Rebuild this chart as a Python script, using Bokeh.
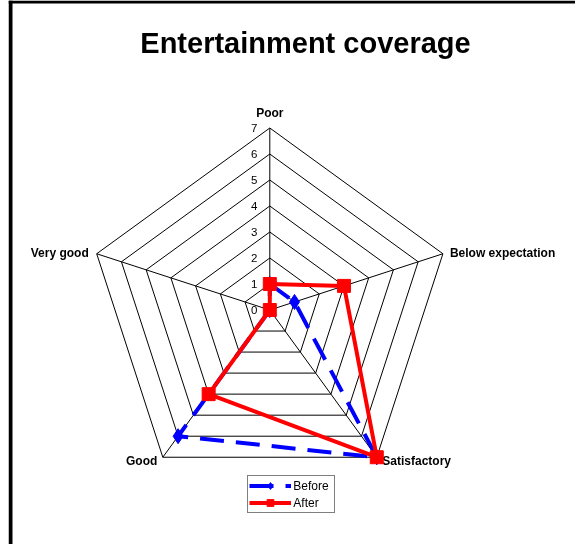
import math
from bokeh.plotting import figure
from bokeh.models import Range1d, Span, Legend, LegendItem, ColumnDataSource
from bokeh.core.properties import value
from bokeh.embed import file_html
from bokeh.resources import INLINE

# ---- data ----
categories = ["Poor", "Below expectation", "Satisfactory", "Good", "Very good"]
before = [1, 1, 7, 6, 0]
after = [1, 3, 7, 4, 0]
tick_values = [0, 1, 2, 3, 4, 5, 6, 7]
tick_labels = ["0", "1", "2", "3", "4", "5", "6", "7"]
r_max = 7
title_text = "Entertainment coverage"

# ---- layout (page pixels) ----
W, H = 567, 544
LEFT, TOP = 8, 0
CX, CY = 269.3, 309.5   # page position of radar centre
PX = 26.0               # pixels per value unit
FONT = "Liberation Sans"

x0 = (LEFT - CX) / PX
x1 = (LEFT + W - CX) / PX
y0 = (CY - (TOP + H)) / PX
y1 = (CY - TOP) / PX

p = figure(width=W, height=H, x_range=Range1d(x0, x1), y_range=Range1d(y0, y1),
           tools="", toolbar_location=None, output_backend="svg", min_border=0,
           styles={"position": "fixed", "left": "8px", "top": "0px"})
p.axis.visible = False
p.grid.visible = False
p.outline_line_color = None
p.background_fill_color = "white"
p.border_fill_color = "white"

n = len(categories)
angles = [math.radians(90 - 360.0 * k / n) for k in range(n)]

def pt(v, k):
    return v * math.cos(angles[k]), v * math.sin(angles[k])

# rings
ring_xs, ring_ys = [], []
for r in tick_values[1:]:
    xs = [pt(r, k)[0] for k in range(n)] + [pt(r, 0)[0]]
    ys = [pt(r, k)[1] for k in range(n)] + [pt(r, 0)[1]]
    ring_xs.append(xs)
    ring_ys.append(ys)
p.multi_line(ring_xs, ring_ys, line_color="black", line_width=1)

# spokes
sp_x0 = [0] * n
sp_y0 = [0] * n
sp_x1 = [pt(r_max, k)[0] for k in range(n)]
sp_y1 = [pt(r_max, k)[1] for k in range(n)]
p.segment(sp_x0, sp_y0, sp_x1, sp_y1, line_color="black", line_width=1)

# tick labels on the Poor axis
p.text(x=[-12.3 / PX] * len(tick_values), y=tick_values, text=tick_labels,
       text_font=value(FONT), text_font_size="11.5px", text_align="right",
       text_baseline="middle", text_color="black")

# category labels
offsets = [(0, 15.5, "center"), (7, 0.6, "left"), (5.5, -3.5, "left"),
           (-5.5, -3.5, "right"), (-8, 0.6, "right")]
lx, ly, la = [], [], []
for k in range(n):
    vx, vy = pt(r_max, k)
    dx, dy, al = offsets[k]
    lx.append(vx + dx / PX)
    ly.append(vy + dy / PX)
    la.append(al)
src_lab = ColumnDataSource(dict(x=lx, y=ly, text=categories, align=la))
p.text(x="x", y="y", text="text", text_align="align", source=src_lab,
       text_font=value(FONT), text_font_size="12px", text_font_style="bold",
       text_baseline="middle", text_color="black")

# series
def series_xy(vals):
    xs = [pt(v, k)[0] for k, v in enumerate(vals)]
    ys = [pt(v, k)[1] for k, v in enumerate(vals)]
    return xs, ys

bx, by = series_xy(before)
ax_, ay_ = series_xy(after)

bl = p.line(bx + [bx[0]], by + [by[0]], line_color="#0000ff", line_width=4,
            line_dash="24 12")
bm = p.scatter(bx, by, marker="diamond", size=15, fill_color="#0000ff",
               line_color="#0000ff")
al_ = p.line(ax_ + [ax_[0]], ay_ + [ay_[0]], line_color="#ff0000", line_width=4)
am = p.scatter(ax_, ay_, marker="square", size=13, fill_color="#ff0000",
               line_color="#ff0000")

# title
p.text(x=[(305 - CX) / PX], y=[(CY - 42) / PX], text=[title_text],
       text_font=value(FONT), text_font_size="29px", text_font_style="bold",
       text_align="center", text_baseline="middle", text_color="black")

# frame border lines
p.add_layout(Span(location=x0 + 2 / PX, dimension="height", line_color="black",
                  line_width=4))
p.add_layout(Span(location=y1 - 1.5 / PX, dimension="width", line_color="black",
                  line_width=3))

legend = Legend(items=[LegendItem(label="Before", renderers=[bl, bm]),
                       LegendItem(label="After", renderers=[al_, am])],
                location=(247.3 - LEFT, (TOP + H) - 513.3),
                orientation="vertical", glyph_width=42, glyph_height=17,
                label_height=17, label_width=40, label_standoff=2, padding=1,
                spacing=0, margin=0, border_line_color="black",
                border_line_width=1, label_text_font=FONT,
                label_text_font_size="12px", label_text_color="black",
                background_fill_color="white", background_fill_alpha=1)
p.add_layout(legend, "center")

open("out.html", "w").write(file_html(p, INLINE))
